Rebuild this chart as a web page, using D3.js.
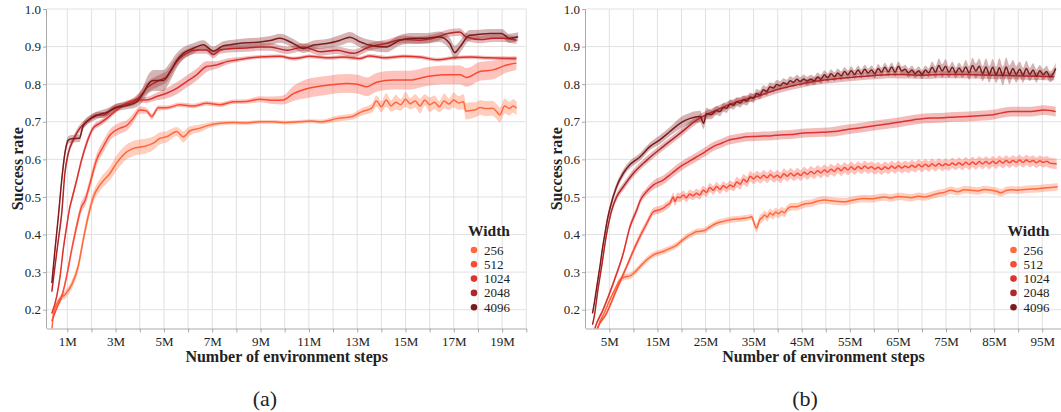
<!DOCTYPE html>
<html>
<head>
<meta charset="utf-8">
<script src="https://cdn.jsdelivr.net/npm/d3@7"></script>
<style>
  html, body { margin: 0; padding: 0; background: #fff; }
  svg { display: block; }
  text { font-family: "Liberation Serif", "Times New Roman", serif; fill: #222; }
</style>
</head>
<body>
<svg id="chart" width="1061" height="412"></svg>
<script>
// ---------- data ----------
const widths = ["256", "512", "1024", "2048", "4096"];
const colors = ["#ff6a3c", "#fb4a33", "#dc3330", "#b22629", "#7b1b1b"];
const yTicks = [0.2, 0.3, 0.4, 0.5, 0.6, 0.7, 0.8, 0.9, 1.0];
const aTickLabels = [1, 3, 5, 7, 9, 11, 13, 15, 17, 19];
const bTickLabels = [5, 15, 25, 35, 45, 55, 65, 75, 85, 95];

// panel (a): [million steps, success rate, spread]
const a256 = [[0.36,0.14,0.004],[0.42,0.186,0.005],[0.7,0.23,0.008],[0.9,0.24,0.01],[1.18,0.266,0.012],[1.45,0.315,0.014],[1.66,0.386,0.015],[1.87,0.45,0.015],[2.08,0.50,0.015],[2.35,0.532,0.016],[2.77,0.563,0.018],[3.04,0.59,0.02],[3.46,0.62,0.02],[3.73,0.629,0.02],[4.15,0.634,0.02],[4.56,0.643,0.018],[4.84,0.656,0.016],[5.11,0.66,0.015],[5.53,0.674,0.012],[5.8,0.66,0.015],[6.08,0.676,0.012],[6.49,0.683,0.01],[6.77,0.689,0.008],[7.32,0.696,0.006],[7.87,0.698,0.005],[8.42,0.697,0.005],[8.98,0.70,0.005],[9.5,0.70,0.005],[10.1,0.698,0.005],[10.6,0.70,0.005],[11.1,0.702,0.005],[11.5,0.70,0.006],[12.2,0.709,0.008],[12.8,0.714,0.008],[13.2,0.727,0.01],[13.6,0.736,0.012],[13.8,0.755,0.015],[14.0,0.74,0.015],[14.2,0.758,0.018],[14.4,0.742,0.015],[14.6,0.752,0.02],[14.8,0.745,0.015],[15.0,0.76,0.02],[15.2,0.748,0.015],[15.4,0.755,0.018],[15.6,0.742,0.02],[15.8,0.758,0.015],[16.0,0.745,0.02],[16.2,0.752,0.018],[16.4,0.74,0.015],[16.6,0.755,0.02],[16.8,0.747,0.015],[17.0,0.758,0.02],[17.2,0.75,0.018],[17.4,0.753,0.02],[17.5,0.728,0.022],[17.7,0.73,0.022],[17.9,0.732,0.02],[18.1,0.738,0.02],[18.3,0.735,0.02],[18.6,0.736,0.02],[18.8,0.725,0.02],[18.9,0.718,0.02],[19.1,0.742,0.02],[19.3,0.735,0.018],[19.45,0.742,0.018],[19.6,0.736,0.018]];
const a512 = [[0.36,0.17,0.005],[0.6,0.21,0.006],[0.77,0.235,0.008],[0.97,0.288,0.01],[1.18,0.359,0.012],[1.38,0.42,0.014],[1.59,0.474,0.015],[1.73,0.49,0.015],[1.94,0.536,0.016],[2.21,0.598,0.016],[2.49,0.634,0.016],[2.77,0.665,0.015],[3.18,0.683,0.015],[3.46,0.69,0.014],[3.73,0.709,0.012],[4.0,0.731,0.01],[4.28,0.729,0.008],[4.49,0.714,0.008],[4.77,0.737,0.007],[5.11,0.737,0.006],[5.66,0.745,0.006],[6.21,0.742,0.006],[6.77,0.749,0.006],[7.32,0.745,0.006],[7.87,0.753,0.006],[8.42,0.754,0.006],[8.98,0.76,0.008],[9.53,0.757,0.01],[9.94,0.758,0.012],[10.36,0.775,0.02],[10.91,0.788,0.025],[11.74,0.797,0.025],[12.57,0.802,0.025],[13.0,0.80,0.025],[13.4,0.793,0.025],[13.8,0.805,0.025],[14.5,0.811,0.025],[15.18,0.811,0.025],[15.87,0.82,0.025],[16.56,0.825,0.025],[17.25,0.825,0.025],[17.53,0.818,0.025],[18.08,0.834,0.025],[18.63,0.838,0.025],[19.18,0.851,0.02],[19.59,0.856,0.018]];
const a1024 = [[0.36,0.19,0.005],[0.56,0.235,0.006],[0.7,0.288,0.008],[0.83,0.359,0.01],[0.97,0.42,0.01],[1.11,0.474,0.01],[1.18,0.492,0.01],[1.39,0.545,0.01],[1.59,0.598,0.01],[1.8,0.643,0.01],[2.07,0.683,0.008],[2.35,0.696,0.008],[2.63,0.709,0.008],[3.04,0.731,0.006],[3.46,0.749,0.006],[3.87,0.758,0.006],[4.28,0.758,0.008],[4.7,0.767,0.01],[5.11,0.776,0.014],[5.53,0.789,0.016],[5.94,0.807,0.016],[6.35,0.825,0.016],[6.77,0.847,0.014],[7.18,0.851,0.01],[7.6,0.86,0.008],[8.15,0.866,0.006],[8.7,0.871,0.005],[9.25,0.873,0.005],[9.8,0.874,0.005],[10.36,0.868,0.005],[11.05,0.874,0.005],[11.74,0.87,0.005],[12.43,0.872,0.005],[13.1,0.868,0.005],[13.5,0.875,0.005],[14.2,0.87,0.005],[14.9,0.874,0.005],[15.6,0.872,0.005],[16.3,0.865,0.005],[17.0,0.87,0.005],[17.7,0.872,0.005],[18.36,0.87,0.005],[19.05,0.869,0.005],[19.59,0.868,0.005]];
const a2048 = [[0.36,0.248,0.005],[0.49,0.315,0.008],[0.63,0.386,0.01],[0.77,0.457,0.01],[0.9,0.563,0.01],[1.04,0.616,0.01],[1.25,0.652,0.01],[1.52,0.683,0.01],[1.8,0.70,0.008],[2.21,0.718,0.008],[2.49,0.718,0.008],[2.9,0.736,0.008],[3.32,0.745,0.008],[3.73,0.753,0.01],[4.0,0.767,0.012],[4.28,0.789,0.014],[4.56,0.802,0.015],[4.84,0.811,0.015],[5.11,0.82,0.015],[5.39,0.847,0.014],[5.66,0.869,0.012],[5.94,0.882,0.01],[6.35,0.891,0.01],[6.77,0.891,0.01],[7.04,0.879,0.01],[7.32,0.891,0.01],[7.87,0.895,0.01],[8.42,0.896,0.01],[8.98,0.899,0.01],[9.4,0.899,0.01],[10.1,0.89,0.01],[10.77,0.899,0.01],[11.5,0.886,0.01],[12.15,0.89,0.01],[12.84,0.882,0.01],[13.5,0.899,0.01],[14.2,0.908,0.01],[14.87,0.919,0.01],[15.56,0.917,0.01],[16.25,0.924,0.01],[16.7,0.934,0.01],[17.25,0.939,0.01],[17.5,0.926,0.01],[18.1,0.919,0.01],[18.63,0.922,0.01],[19.05,0.922,0.01],[19.59,0.917,0.01]];
const a4096 = [[0.36,0.271,0.006],[0.49,0.359,0.01],[0.63,0.448,0.012],[0.77,0.545,0.012],[0.9,0.616,0.012],[1.05,0.652,0.01],[1.2,0.655,0.01],[1.5,0.656,0.01],[1.66,0.69,0.01],[2.07,0.712,0.01],[2.35,0.72,0.01],[2.63,0.725,0.01],[3.04,0.738,0.01],[3.46,0.743,0.01],[3.87,0.753,0.014],[4.15,0.776,0.02],[4.35,0.80,0.025],[4.56,0.81,0.028],[4.97,0.81,0.028],[5.25,0.832,0.025],[5.53,0.863,0.02],[5.8,0.882,0.016],[6.21,0.895,0.014],[6.63,0.905,0.012],[7.04,0.888,0.012],[7.46,0.902,0.012],[7.87,0.906,0.012],[8.42,0.91,0.012],[8.98,0.912,0.012],[9.4,0.916,0.012],[9.8,0.922,0.012],[10.36,0.908,0.012],[10.77,0.895,0.012],[11.2,0.904,0.012],[11.74,0.908,0.012],[12.3,0.917,0.014],[12.7,0.925,0.014],[13.1,0.913,0.014],[13.5,0.904,0.014],[14.2,0.899,0.014],[14.77,0.917,0.014],[15.3,0.922,0.014],[15.87,0.922,0.014],[16.4,0.926,0.014],[16.83,0.908,0.016],[17.04,0.884,0.018],[17.25,0.899,0.016],[17.66,0.93,0.014],[18.08,0.933,0.012],[18.5,0.935,0.012],[18.98,0.935,0.012],[19.3,0.922,0.012],[19.66,0.926,0.012]];

// panel (b)
const b256 = [[2.3,0.13,0.004],[2.7,0.155,0.004],[3.9,0.19,0.005],[5.1,0.226,0.006],[6.2,0.255,0.007],[7.2,0.279,0.008],[8.2,0.287,0.008],[9.3,0.29,0.008],[10.3,0.30,0.008],[11.4,0.315,0.008],[12.8,0.333,0.008],[14.2,0.346,0.008],[15.2,0.351,0.008],[16.2,0.355,0.008],[17.6,0.363,0.008],[19.0,0.372,0.008],[20.0,0.383,0.008],[21.1,0.394,0.008],[22.2,0.402,0.008],[23.2,0.408,0.008],[24.6,0.41,0.008],[25.9,0.42,0.008],[27.3,0.43,0.008],[28.7,0.435,0.008],[30.1,0.439,0.008],[31.5,0.441,0.008],[32.9,0.443,0.008],[34.0,0.445,0.008],[34.6,0.447,0.008],[35.1,0.43,0.01],[35.6,0.417,0.012],[36.0,0.43,0.012],[36.3,0.44,0.012],[36.8,0.445,0.012],[37.3,0.452,0.012],[37.8,0.446,0.012],[38.4,0.457,0.012],[39.0,0.452,0.012],[39.6,0.46,0.012],[40.2,0.455,0.012],[40.8,0.462,0.012],[41.4,0.458,0.012],[42.0,0.468,0.01],[42.8,0.474,0.01],[43.9,0.474,0.01],[44.8,0.478,0.01],[45.8,0.482,0.01],[46.9,0.483,0.01],[48.0,0.488,0.01],[49.7,0.492,0.01],[51.0,0.49,0.01],[52.5,0.488,0.01],[53.9,0.487,0.01],[55.0,0.49,0.01],[56.5,0.494,0.01],[58.0,0.496,0.01],[59.5,0.495,0.01],[61.0,0.498,0.01],[62.2,0.50,0.01],[63.5,0.497,0.01],[65.0,0.501,0.01],[66.4,0.50,0.01],[67.8,0.498,0.01],[69.2,0.502,0.01],[70.5,0.50,0.01],[71.9,0.504,0.01],[73.3,0.509,0.01],[74.6,0.512,0.01],[76.0,0.518,0.01],[77.4,0.514,0.01],[78.8,0.519,0.01],[80.2,0.518,0.01],[81.6,0.516,0.01],[83.0,0.52,0.01],[84.3,0.518,0.01],[85.5,0.515,0.01],[86.4,0.511,0.01],[87.5,0.517,0.01],[88.7,0.519,0.01],[89.9,0.518,0.01],[91.2,0.52,0.01],[92.6,0.521,0.01],[94.1,0.522,0.01],[95.5,0.524,0.01],[96.8,0.525,0.01],[98.2,0.527,0.01]];
const b512 = [[2.0,0.13,0.004],[2.5,0.15,0.004],[4.4,0.19,0.006],[6.5,0.253,0.008],[8.6,0.315,0.008],[10.7,0.377,0.01],[12.8,0.43,0.01],[14.2,0.461,0.01],[15.2,0.465,0.01],[16.2,0.47,0.01],[17.0,0.478,0.01],[17.6,0.483,0.01],[18.3,0.50,0.012],[18.6,0.488,0.012],[19.2,0.50,0.012],[19.7,0.498,0.012],[20.4,0.505,0.012],[21.0,0.498,0.012],[21.7,0.508,0.012],[22.4,0.503,0.012],[23.1,0.51,0.012],[23.8,0.505,0.012],[24.5,0.518,0.012],[25.2,0.512,0.012],[25.9,0.525,0.012],[26.6,0.518,0.012],[27.3,0.528,0.012],[28.0,0.52,0.012],[28.7,0.53,0.012],[29.4,0.524,0.012],[30.1,0.532,0.012],[30.8,0.527,0.012],[31.5,0.54,0.014],[32.2,0.534,0.014],[32.9,0.547,0.014],[33.6,0.54,0.014],[34.3,0.555,0.014],[35.0,0.548,0.014],[35.7,0.556,0.014],[36.4,0.55,0.014],[37.1,0.558,0.014],[37.8,0.551,0.014],[38.5,0.56,0.014],[39.2,0.552,0.014],[39.9,0.558,0.014],[40.6,0.551,0.014],[41.3,0.562,0.014],[42.0,0.555,0.014],[42.7,0.563,0.014],[43.4,0.556,0.014],[44.1,0.563,0.014],[44.8,0.557,0.014],[45.5,0.566,0.014],[46.2,0.56,0.014],[46.9,0.568,0.014],[47.6,0.562,0.014],[48.3,0.57,0.014],[49.0,0.564,0.014],[49.7,0.572,0.014],[50.4,0.566,0.014],[51.1,0.574,0.014],[51.8,0.568,0.014],[52.5,0.577,0.014],[53.2,0.57,0.014],[53.9,0.578,0.014],[54.6,0.572,0.014],[55.3,0.58,0.014],[56.0,0.573,0.014],[56.7,0.581,0.014],[57.4,0.575,0.014],[58.1,0.582,0.014],[58.8,0.576,0.014],[59.5,0.58,0.014],[60.2,0.574,0.014],[60.9,0.579,0.014],[61.6,0.573,0.014],[62.3,0.58,0.014],[63.0,0.575,0.014],[63.7,0.582,0.014],[64.4,0.576,0.014],[65.1,0.583,0.014],[65.8,0.577,0.014],[66.5,0.582,0.014],[67.2,0.578,0.014],[67.9,0.584,0.014],[68.6,0.579,0.014],[69.3,0.586,0.014],[70.0,0.58,0.014],[70.7,0.587,0.014],[71.4,0.581,0.014],[72.1,0.588,0.014],[72.8,0.582,0.014],[73.5,0.589,0.014],[74.2,0.583,0.014],[74.9,0.588,0.014],[75.6,0.584,0.014],[76.3,0.59,0.014],[77.0,0.585,0.014],[77.7,0.591,0.014],[78.4,0.585,0.014],[79.1,0.592,0.014],[79.8,0.586,0.014],[80.5,0.593,0.014],[81.2,0.587,0.014],[81.9,0.594,0.014],[82.6,0.588,0.014],[83.3,0.594,0.014],[84.0,0.588,0.014],[84.7,0.595,0.014],[85.4,0.589,0.014],[86.1,0.596,0.014],[86.8,0.59,0.014],[87.5,0.597,0.014],[88.2,0.591,0.014],[88.9,0.597,0.014],[89.6,0.592,0.014],[90.3,0.598,0.014],[91.0,0.592,0.014],[91.7,0.598,0.014],[92.4,0.593,0.014],[93.1,0.597,0.014],[93.8,0.591,0.014],[94.5,0.596,0.014],[95.2,0.592,0.014],[95.9,0.595,0.014],[96.6,0.59,0.014],[97.3,0.589,0.014],[98.0,0.588,0.014]];
const b1024 = [[1.6,0.13,0.004],[2.0,0.15,0.005],[3.7,0.20,0.006],[5.8,0.27,0.008],[7.9,0.35,0.008],[9.3,0.421,0.01],[10.7,0.465,0.01],[11.4,0.49,0.01],[12.8,0.515,0.01],[14.2,0.532,0.012],[16.2,0.545,0.012],[18.0,0.563,0.012],[19.7,0.58,0.012],[21.5,0.594,0.012],[23.2,0.607,0.012],[24.9,0.62,0.012],[26.6,0.634,0.012],[28.3,0.643,0.012],[30.1,0.652,0.012],[31.8,0.656,0.012],[33.6,0.66,0.012],[35.3,0.661,0.012],[37.0,0.662,0.012],[38.8,0.663,0.012],[40.5,0.665,0.012],[42.8,0.666,0.012],[44.5,0.669,0.012],[46.9,0.671,0.012],[49.3,0.672,0.012],[51.8,0.674,0.013],[54.2,0.679,0.013],[56.6,0.683,0.013],[58.7,0.687,0.013],[60.8,0.691,0.013],[63.2,0.695,0.013],[65.7,0.70,0.013],[68.1,0.705,0.013],[70.5,0.709,0.013],[72.5,0.71,0.013],[74.6,0.711,0.013],[77.0,0.713,0.013],[79.5,0.714,0.013],[81.9,0.716,0.013],[84.3,0.718,0.013],[86.4,0.723,0.013],[88.5,0.727,0.013],[90.5,0.727,0.013],[92.6,0.727,0.013],[95.4,0.731,0.013],[97.8,0.727,0.013]];
const b2048 = [[1.5,0.16,0.005],[1.87,0.182,0.005],[2.6,0.25,0.006],[3.4,0.315,0.008],[4.45,0.403,0.008],[5.5,0.465,0.01],[6.5,0.50,0.01],[7.9,0.527,0.01],[10.0,0.563,0.01],[12.8,0.598,0.01],[16.2,0.634,0.01],[19.7,0.669,0.01],[23.2,0.705,0.01],[27.3,0.731,0.01],[31.5,0.753,0.01],[35.6,0.767,0.01],[39.8,0.785,0.01],[43.9,0.798,0.01],[46.8,0.806,0.01],[49.7,0.811,0.01],[53.2,0.816,0.01],[56.6,0.82,0.01],[60.1,0.823,0.01],[63.6,0.826,0.01],[67.0,0.825,0.01],[70.5,0.824,0.01],[74.0,0.826,0.01],[77.4,0.826,0.01],[80.8,0.825,0.01],[84.3,0.824,0.01],[87.7,0.823,0.01],[91.2,0.822,0.01],[94.4,0.821,0.01],[97.5,0.82,0.01]];
const b4096 = [[1.5,0.19,0.005],[1.87,0.217,0.005],[2.5,0.27,0.008],[3.05,0.315,0.008],[3.6,0.365,0.01],[4.1,0.403,0.01],[4.6,0.44,0.01],[5.1,0.468,0.01],[6.5,0.527,0.01],[7.9,0.563,0.01],[9.3,0.586,0.01],[11.4,0.607,0.01],[13.4,0.634,0.01],[15.5,0.652,0.012],[17.6,0.674,0.012],[19.7,0.696,0.015],[21.8,0.709,0.015],[23.9,0.714,0.015],[24.6,0.696,0.015],[25.2,0.722,0.015],[26.2,0.719,0.012],[27.3,0.73,0.012],[28.0,0.727,0.012],[28.7,0.738,0.012],[29.4,0.736,0.012],[30.1,0.747,0.012],[30.8,0.744,0.012],[31.5,0.753,0.012],[32.2,0.75,0.012],[32.9,0.758,0.012],[33.6,0.755,0.012],[34.3,0.766,0.012],[35.0,0.762,0.012],[35.6,0.775,0.012],[36.3,0.772,0.012],[37.0,0.785,0.012],[37.7,0.781,0.012],[38.4,0.793,0.012],[39.1,0.79,0.012],[39.8,0.799,0.012],[40.5,0.796,0.012],[41.2,0.804,0.012],[41.9,0.80,0.012],[42.6,0.809,0.012],[43.3,0.805,0.012],[44.0,0.813,0.012],[44.7,0.807,0.012],[45.4,0.814,0.012],[46.1,0.808,0.012],[46.9,0.813,0.012],[47.6,0.809,0.012],[48.3,0.819,0.012],[49.0,0.813,0.012],[49.7,0.825,0.012],[50.4,0.817,0.012],[51.1,0.828,0.012],[51.8,0.82,0.012],[52.5,0.83,0.012],[53.2,0.822,0.012],[53.9,0.834,0.012],[54.6,0.825,0.012],[55.3,0.836,0.012],[56.0,0.826,0.012],[56.7,0.838,0.012],[57.4,0.828,0.012],[58.1,0.84,0.012],[58.8,0.83,0.012],[59.5,0.838,0.012],[60.2,0.828,0.012],[60.9,0.842,0.012],[61.6,0.832,0.012],[62.3,0.845,0.012],[63.0,0.833,0.012],[63.7,0.846,0.012],[64.4,0.832,0.012],[65.1,0.848,0.012],[65.8,0.835,0.012],[66.5,0.84,0.012],[67.2,0.83,0.012],[67.9,0.838,0.012],[68.6,0.828,0.012],[69.3,0.836,0.012],[70.0,0.826,0.012],[70.7,0.838,0.012],[71.4,0.83,0.012],[72.1,0.845,0.015],[72.8,0.832,0.015],[73.5,0.85,0.018],[74.2,0.835,0.018],[74.9,0.848,0.018],[75.6,0.832,0.015],[76.3,0.845,0.015],[77.0,0.83,0.015],[77.7,0.843,0.015],[78.4,0.832,0.015],[79.1,0.846,0.018],[79.8,0.83,0.018],[80.5,0.85,0.02],[81.2,0.835,0.02],[81.9,0.848,0.02],[82.6,0.828,0.02],[83.3,0.846,0.022],[84.0,0.826,0.022],[84.7,0.845,0.022],[85.4,0.825,0.022],[86.1,0.844,0.025],[86.8,0.822,0.025],[87.5,0.846,0.025],[88.2,0.825,0.025],[88.9,0.842,0.022],[89.6,0.826,0.022],[90.3,0.84,0.02],[91.0,0.824,0.02],[91.7,0.842,0.02],[92.4,0.826,0.018],[93.1,0.838,0.018],[93.8,0.822,0.018],[94.5,0.836,0.015],[95.2,0.825,0.015],[95.9,0.834,0.015],[96.6,0.82,0.015],[97.3,0.828,0.015],[97.8,0.842,0.015]];

const seriesA = [a256, a512, a1024, a2048, a4096];
const seriesB = [b256, b512, b1024, b2048, b4096];

// ---------- drawing ----------
const svg = d3.select("#chart");
const yScale = d3.scaleLinear().domain([0.15, 1.0]).range([328.5, 9]);

function panel(opts) {
  const { id, series, xDomain, xRange, gridStep, tickLabels, yTitleX, legendX, captionX, caption } = opts;
  const x = d3.scaleLinear().domain(xDomain).range(xRange);
  const g = svg.append("g");
  const x0 = xRange[0], x1 = xRange[1];
  const yBot = yScale.range()[0], yTop = yScale.range()[1];

  g.append("clipPath").attr("id", "clip" + id)
    .append("rect").attr("x", x0).attr("y", yTop).attr("width", x1 - x0).attr("height", yBot - yTop);

  // grid
  const gridX = d3.range(gridStep, xDomain[1] + 0.001, gridStep);
  g.append("g").selectAll("line").data(gridX).join("line")
    .attr("x1", d => x(d)).attr("x2", d => x(d)).attr("y1", yTop).attr("y2", yBot)
    .attr("stroke", "#e1e1e1").attr("stroke-width", 1);
  g.append("g").selectAll("line").data(yTicks).join("line")
    .attr("x1", x0).attr("x2", x1).attr("y1", d => yScale(d)).attr("y2", d => yScale(d))
    .attr("stroke", "#e1e1e1").attr("stroke-width", 1);

  // bands and lines
  const plot = g.append("g").attr("clip-path", `url(#clip${id})`);
  const area = d3.area().x(d => x(d[0])).y0(d => yScale(d[1] - d[2])).y1(d => yScale(d[1] + d[2])).curve(d3.curveMonotoneX);
  const line = d3.line().x(d => x(d[0])).y(d => yScale(d[1])).curve(d3.curveMonotoneX);
  series.forEach((s, i) => {
    plot.append("path").attr("d", area(s)).attr("fill", colors[i]).attr("fill-opacity", 0.33).attr("stroke", "none");
  });
  series.forEach((s, i) => {
    plot.append("path").attr("d", line(s)).attr("fill", "none").attr("stroke", colors[i]).attr("stroke-width", 1.5);
  });

  // axes
  const xAxis = d3.axisBottom(x).tickValues(gridX).tickSize(4).tickPadding(4)
    .tickFormat(d => tickLabels.some(t => Math.abs(t - d) < 1e-6) ? d + "M" : "");
  const ax = g.append("g").attr("transform", `translate(0,${yBot})`).call(xAxis);
  ax.attr("font-family", null);
  ax.select(".domain").attr("stroke", "#aaa").attr("d", `M${x0},0.5H${x1}`);
  ax.selectAll(".tick line").attr("stroke", "#aaa");
  ax.selectAll("text").attr("font-size", 13).attr("fill", "#333");

  const yAxis = d3.axisLeft(yScale).tickValues(yTicks).tickSize(4).tickPadding(2).tickFormat(d3.format(".1f"));
  const ay = g.append("g").attr("transform", `translate(${x0},0)`).call(yAxis);
  ay.attr("font-family", null);
  ay.select(".domain").attr("stroke", "#aaa").attr("d", `M-0.5,${yTop}V${yBot}`);
  ay.selectAll(".tick line").attr("stroke", "#aaa");
  ay.selectAll("text").attr("font-size", 13).attr("fill", "#333");

  // titles
  g.append("text").attr("x", (x0 + x1) / 2).attr("y", 362).attr("text-anchor", "middle")
    .attr("font-size", 16).attr("font-weight", "bold").text("Number of environment steps");
  g.append("text").attr("transform", `translate(${yTitleX},${(yTop + yBot) / 2}) rotate(-90)`)
    .attr("text-anchor", "middle").attr("font-size", 16).attr("font-weight", "bold").text("Success rate");
  g.append("text").attr("x", captionX).attr("y", 406).attr("text-anchor", "middle")
    .attr("font-size", 22).text(caption);

  // legend
  const lg = g.append("g");
  lg.append("text").attr("x", legendX).attr("y", 236).attr("font-size", 15.5).attr("font-weight", "bold").text("Width");
  const items = lg.selectAll("g.item").data(widths).join("g").attr("class", "item")
    .attr("transform", (d, i) => `translate(${legendX + 6},${250 + i * 14.3})`);
  items.append("circle").attr("r", 3.3).attr("fill", (d, i) => colors[i]);
  items.append("text").attr("x", 10).attr("y", 4.5).attr("font-size", 13).attr("fill", "#333").text(d => d);
}

panel({ id: "a", series: seriesA, xDomain: [0.16, 20], xRange: [47, 526.3], gridStep: 1,
  tickLabels: aTickLabels, yTitleX: 22.5, legendX: 468, captionX: 265, caption: "(a)" });
panel({ id: "b", series: seriesB, xDomain: [0.15, 98.9], xRange: [586, 1061], gridStep: 5,
  tickLabels: bTickLabels, yTitleX: 561.5, legendX: 1007.5, captionX: 805, caption: "(b)" });
</script>
</body>
</html>
